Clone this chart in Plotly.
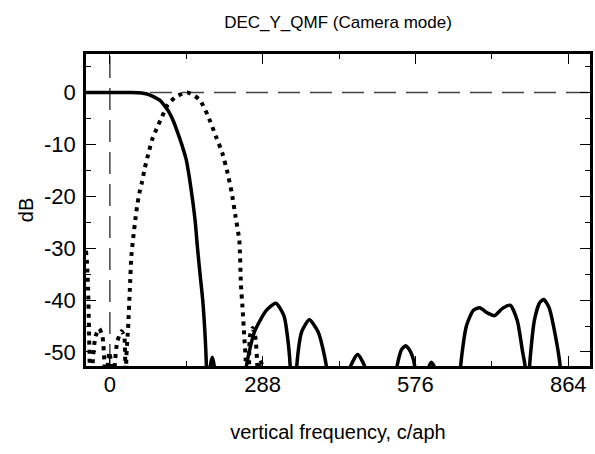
import plotly.graph_objects as go

# low-pass (solid) response, frequency in c/aph, level in dB
lp_freq = [-45, 0, 40, 60, 70, 80, 94, 104, 112, 120, 128, 136, 144, 150, 156, 161, 165, 170, 175, 179, 182, 184,
           186, 189, 193, 197, 200,
           248, 257, 273, 295, 313, 328, 337, 341, 344,
           347, 352, 362, 376, 392, 405, 412, 415,
           450, 453, 467, 481, 484,
           538, 541, 550, 558, 567, 575, 578,
           599, 601, 606, 612, 614,
           658, 661, 672, 685, 697, 712, 725, 740, 755, 768, 778, 783, 786,
           788, 791, 800, 810, 818, 828, 840, 849, 852, 905]
lp_db = [0, 0, 0, -0.1, -0.3, -0.7, -1.5, -2.7, -3.9, -5.6, -7.8, -10.2, -13, -16.5, -20.8, -25, -29.8, -35, -40, -46, -53, -75,
         -75, -53, -51, -53, -75,
         -75, -53, -46, -42, -40.6, -43, -49, -55, -75,
         -75, -53, -46, -43.8, -46, -51, -56, -75,
         -75, -53, -50.5, -53, -75,
         -75, -53, -49.5, -48.8, -50, -53, -75,
         -75, -53, -52, -53, -75,
         -75, -53, -45, -42, -41.5, -42.5, -43, -41.6, -41, -44, -50, -53, -75,
         -75, -53, -44, -40.5, -39.9, -41.5, -47, -53, -75, -75]

# band-pass (dotted) response
bp_freq = [-45, -43, -41, -39.5, -38, -37,
           -35, -33, -27, -20, -14, -10, -9,
           -6, -4, -1, 3, 5,
           7, 9, 14, 22, 27, 29, 30,
           31, 34.4, 37.5, 40.6, 44, 48, 52, 56, 60, 66, 72, 80, 88, 97, 109, 125, 146,
           169, 184, 200, 212, 222, 230, 237, 244, 247, 250, 253, 256, 257,
           259, 264, 269, 274, 278, 279,
           281, 282, 284, 287, 288, 905]
bp_db = [-30.5, -33, -38, -45, -53, -75,
         -75, -53, -47, -45.5, -47, -53, -75,
         -75, -53, -50, -53, -75,
         -75, -53, -48, -46, -47, -53, -75,
         -51.2, -45.3, -38.2, -31.4, -28, -24.5, -21.5, -19.2, -17.5, -14.5, -12, -9, -7, -5, -2.4, -0.8, 0,
         -1.4, -4.3, -8.5, -11.7, -15.6, -19.5, -24, -28.5, -36.9, -41.4, -46.5, -51.7, -75,
         -75, -47, -45.4, -47, -53, -75,
         -75, -53, -51.5, -53, -75, -75]

ref_db = 0
ref_freq = 0
x_ticks = [0, 288, 576, 864]
y_ticks = [0, -10, -20, -30, -40, -50]
y_labels = ["0", "-10", "-20", "-30", "-40", "-50"]

font = "Liberation Sans, Arial, sans-serif"

fig = go.Figure()
fig.add_hline(y=ref_db, line=dict(color="#444444", width=1.5, dash="22px,10px"), layer="below")
fig.add_vline(x=ref_freq, line=dict(color="#444444", width=1.5, dash="22px,10px"), layer="below")

fig.add_trace(go.Scatter(x=bp_freq, y=bp_db, mode="lines",
                         line=dict(color="black", width=4, dash="4px,5px", shape="spline", smoothing=0.6)))
fig.add_trace(go.Scatter(x=lp_freq, y=lp_db, mode="lines",
                         line=dict(color="black", width=3.5, shape="spline", smoothing=0.6)))

fig.update_layout(
    width=595, height=454,
    margin=dict(l=86, r=2, t=54, b=88),
    paper_bgcolor="white", plot_bgcolor="white",
    showlegend=False,
    font=dict(family=font, color="black", size=22),
    title=dict(text="DEC_Y_QMF (Camera mode)", x=0.5, xref="paper", xanchor="center",
               y=1 - 22 / 454, yref="container", yanchor="middle",
               font=dict(size=17)),
)
fig.update_xaxes(
    range=[-45, 905], tickvals=x_ticks, ticks="inside", ticklen=10, tickwidth=1, tickcolor="black",
    minor=dict(dtick=144, tick0=0, ticks="inside", ticklen=5, tickwidth=1, tickcolor="black"),
    showline=True, linewidth=2.5, linecolor="black", mirror="ticks",
    showgrid=False, zeroline=False, ticklabelstandoff=-3,
    title=dict(text="vertical frequency, c/aph", font=dict(size=20), standoff=29),
)
fig.update_yaxes(
    range=[-52.7, 7.4], tickvals=y_ticks, ticktext=y_labels, ticks="inside", ticklen=10, tickwidth=1, tickcolor="black",
    minor=dict(dtick=5, tick0=0, ticks="inside", ticklen=5, tickwidth=1, tickcolor="black"),
    showline=True, linewidth=2.5, linecolor="black", mirror="ticks",
    showgrid=False, zeroline=False, ticklabelstandoff=3,
    title=dict(text="dB", font=dict(size=20), standoff=6),
)

# the page body has a default margin; drop it so the figure fills the window
fig.write_html("out.html", config={"displayModeBar": False},
               post_script="document.body.style.margin = '0';")
